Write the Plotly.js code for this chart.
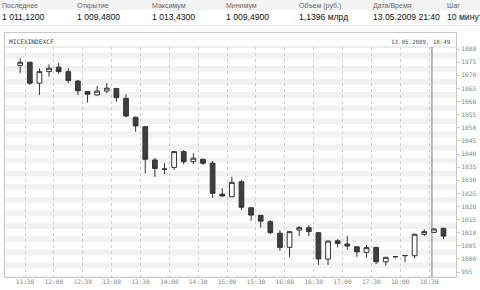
<!DOCTYPE html>
<html><head><meta charset="utf-8">
<script src="https://cdn.plot.ly/plotly-3.0.1.min.js"></script>
<style>html,body{margin:0;padding:0;background:#fff;}#chart{width:480px;height:290px;}</style>
</head><body><div id="chart"></div>
<script>
// ---- data ----
const times = [
 '2009-05-13 11:25','2009-05-13 11:35','2009-05-13 11:45','2009-05-13 11:55','2009-05-13 12:05',
 '2009-05-13 12:15','2009-05-13 12:25','2009-05-13 12:35','2009-05-13 12:45','2009-05-13 12:55',
 '2009-05-13 13:05','2009-05-13 13:15','2009-05-13 13:25','2009-05-13 13:35','2009-05-13 13:45',
 '2009-05-13 13:55','2009-05-13 14:05','2009-05-13 14:15','2009-05-13 14:25','2009-05-13 14:35',
 '2009-05-13 14:45','2009-05-13 14:55','2009-05-13 15:05','2009-05-13 15:15','2009-05-13 15:25',
 '2009-05-13 15:35','2009-05-13 15:45','2009-05-13 15:55','2009-05-13 16:05','2009-05-13 16:15',
 '2009-05-13 16:25','2009-05-13 16:35','2009-05-13 16:45','2009-05-13 16:55','2009-05-13 17:05',
 '2009-05-13 17:15','2009-05-13 17:25','2009-05-13 17:35','2009-05-13 17:45','2009-05-13 17:55',
 '2009-05-13 18:05','2009-05-13 18:15','2009-05-13 18:25','2009-05-13 18:35','2009-05-13 18:45'
];
const openV  = [1073.8,1075.0,1067.0,1071.4,1073.1,1071.4,1067.8,1063.8,1062.5,1064.0,
                1065.0,1061.2,1054.0,1050.4,1037.7,1034.3,1034.9,1040.9,1037.1,1038.0,
                1036.5,1024.7,1023.7,1029.4,1019.5,1016.6,1014.2,1009.8,1004.4,1011.0,
                1011.9,1010.0,999.9,1006.9,1005.7,1004.6,1002.5,1004.4,998.9,1000.8,
                1001.2,1001.2,1009.4,1010.1,1011.7];
const highV  = [1076.5,1075.2,1072.7,1074.2,1074.8,1072.7,1068.2,1064.0,1065.9,1067.0,
                1065.2,1062.8,1054.3,1050.6,1038.5,1036.5,1041.0,1041.5,1040.3,1038.2,
                1037.3,1026.9,1031.3,1030.1,1019.8,1016.8,1014.8,1011.0,1010.6,1012.5,
                1012.9,1010.2,1007.0,1007.5,1008.7,1004.8,1005.3,1004.6,1000.8,1001.1,
                1001.5,1009.6,1011.3,1011.8,1011.8];
const lowV   = [1070.8,1066.3,1062.5,1069.5,1070.5,1067.0,1062.5,1059.6,1062.3,1063.2,
                1059.9,1054.0,1048.5,1032.6,1031.3,1032.3,1033.9,1036.1,1036.1,1035.8,
                1023.3,1023.7,1023.5,1018.6,1014.6,1011.9,1009.5,1003.1,1000.6,1008.7,
                1008.7,997.7,997.7,1004.4,1003.4,1000.8,1000.5,998.0,997.4,1000.2,
                998.7,1000.2,1008.7,1010.0,1007.5];
const closeV = [1075.0,1067.0,1071.4,1072.7,1071.4,1068.0,1064.1,1062.8,1064.0,1065.1,
                1061.5,1054.5,1050.7,1038.0,1034.5,1034.2,1040.9,1037.1,1038.4,1036.5,
                1025.0,1024.0,1029.2,1019.7,1016.7,1014.4,1010.0,1004.4,1010.4,1011.9,
                1010.4,1000.0,1006.8,1005.9,1004.9,1002.7,1004.3,998.9,1000.6,1000.9,
                1001.3,1009.4,1010.4,1011.4,1008.7];
const headLabels = ['Последнее','Открытие','Максимум','Минимум','Объем (руб.)','Дата/Время','Шаг'];
const headValues = ['1 011,1200','1 009,4800','1 013,4300','1 009,4900','1,1396 млрд','13.05.2009 21:40','10 минут'];
const instrument = 'MICEXINDEXCF';
const stampText = '13.05.2009, 18:49';
const cursorTime = '2009-05-13 18:33';

// ---- layout helpers (pixel -> paper) ----
const PL = 4, PR = 456, PT = 47, PB = 277;
const px = v => (v - PL) / (PR - PL);
const py = v => (PB - v) / (PB - PT);
const colX = [1, 76, 151, 225, 298, 372, 446];

const shapes = [];
// header band
shapes.push({type:'rect', xref:'paper', yref:'paper', x0:px(0), x1:px(480), y0:py(0), y1:py(10), fillcolor:'#f4f4f4', line:{width:0}});
shapes.push({type:'line', xref:'paper', yref:'paper', x0:px(0), x1:px(480), y0:py(25.5), y1:py(25.5), line:{color:'#e8e8e8', width:1}});
// frame box
shapes.push({type:'rect', xref:'paper', yref:'paper', x0:px(4.5), x1:px(456.5), y0:py(32.5), y1:py(277.5), fillcolor:'rgba(0,0,0,0)', line:{color:'#c8c8c8', width:1}});
shapes.push({type:'line', xref:'paper', yref:'paper', x0:px(4.5), x1:px(456.5), y0:py(47), y1:py(47), line:{color:'#dcdcdc', width:1}});
// stripes
for (let v = 990; v <= 1080; v += 5) {
  shapes.push({type:'rect', xref:'paper', yref:'y', x0:0, x1:1, y0:v+1.4, y1:v+3.6, fillcolor:'#f2f2f2', line:{width:0}, layer:'below'});
}
// cursor line
shapes.push({type:'line', xref:'x', yref:'paper', x0:cursorTime, x1:cursorTime, y0:0, y1:1, line:{color:'#7a7a7a', width:1}});

const annotations = [];
headLabels.forEach((t,i)=>annotations.push({text:t, xref:'paper', yref:'paper', x:px(colX[i]), y:py(5.5), xanchor:'left', yanchor:'middle', showarrow:false, borderpad:0, font:{family:'Liberation Sans, Arial', size:7, color:'#666'}}));
headValues.forEach((t,i)=>annotations.push({text:t, xref:'paper', yref:'paper', x:px(colX[i]), y:py(17), xanchor:'left', yanchor:'middle', showarrow:false, borderpad:0, font:{family:'Liberation Sans, Arial', size:8.6, color:'#111'}}));
annotations.push({text:instrument, xref:'paper', yref:'paper', x:px(8), y:py(41.5), xanchor:'left', yanchor:'middle', showarrow:false, borderpad:0, font:{family:'DejaVu Sans Mono, monospace', size:6.2, color:'#444'}});
annotations.push({text:stampText, xref:'paper', yref:'paper', x:px(452), y:py(41.5), xanchor:'right', yanchor:'middle', showarrow:false, borderpad:0, font:{family:'DejaVu Sans Mono, monospace', size:5.8, color:'#555'}});

const trace = {
  type:'candlestick', x:times, open:openV, high:highV, low:lowV, close:closeV,
  increasing:{fillcolor:'#ffffff', line:{color:'#333333', width:1}},
  decreasing:{fillcolor:'#3f3f3f', line:{color:'#333333', width:1}},
  whiskerwidth:0, hoverinfo:'skip', showlegend:false
};

const layout = {
  width:480, height:290,
  margin:{l:PL, r:480-PR, t:PT, b:290-PB, pad:0},
  paper_bgcolor:'#fff', plot_bgcolor:'#fff',
  showlegend:false,
  xaxis:{type:'date', range:['2009-05-13 11:08:10','2009-05-13 18:58:00'],
    rangeslider:{visible:false}, tickformat:'%H:%M', dtick:30*60*1000, tick0:'2009-05-13 11:30',
    showgrid:true, gridcolor:'#cfcfcf', griddash:'dot', gridwidth:1,
    showline:false, zeroline:false, ticks:'', automargin:false,
    tickfont:{family:'DejaVu Sans Mono, monospace', size:6.2, color:'#888'}},
  yaxis:{range:[993.1,1080.8], side:'right', dtick:5, tick0:995,
    showgrid:false, zeroline:false, showline:false, ticks:'outside', ticklen:3, tickcolor:'#cccccc',
    automargin:false, tickfont:{family:'DejaVu Sans Mono, monospace', size:6.2, color:'#888'}},
  shapes:shapes, annotations:annotations
};
Plotly.newPlot('chart',[trace],layout,{staticPlot:true, displayModeBar:false});
</script></body></html>
